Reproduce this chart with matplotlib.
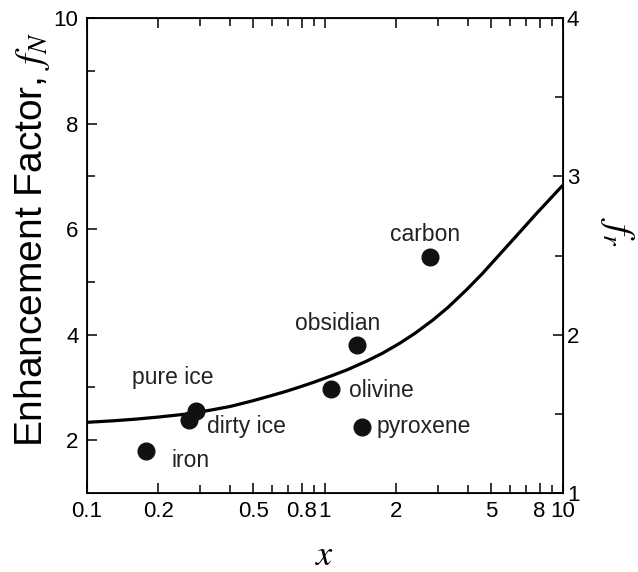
import matplotlib
matplotlib.use('Agg')
import matplotlib.pyplot as plt
from matplotlib.ticker import FixedLocator, FixedFormatter, NullFormatter

plt.rcParams['font.family'] = ['Liberation Sans', 'DejaVu Sans']
plt.rcParams['mathtext.fontset'] = 'stix'

# model curve f_N(x)
curve_x = [0.1, 0.13, 0.16, 0.2, 0.26, 0.33, 0.4, 0.5, 0.6, 0.68, 0.785, 0.9,
           1.08, 1.25, 1.5, 1.75, 2.07, 2.4, 2.85, 3.3, 3.94, 4.6, 5.43, 6.5, 7.7, 10]
curve_y = [2.34, 2.37, 2.40, 2.44, 2.495, 2.57, 2.64, 2.75, 2.85, 2.92, 3.01, 3.10,
           3.23, 3.34, 3.50, 3.65, 3.84, 4.03, 4.28, 4.52, 4.85, 5.16, 5.52, 5.91, 6.28, 6.83]

# materials
names = ['iron', 'dirty ice', 'pure ice', 'olivine', 'obsidian', 'pyroxene', 'carbon']
mat_x = [0.178, 0.269, 0.289, 1.067, 1.37, 1.435, 2.78]
mat_y = [1.79, 2.38, 2.56, 2.98, 3.80, 2.25, 5.47]
# label positions (left edge, centre)
lab_x = [0.2275, 0.319, 0.1546, 1.26, 0.748, 1.65, 1.875]
lab_y = [1.62, 2.27, 3.18, 2.95, 4.22, 2.27, 5.89]

xticks_major = [0.1, 0.2, 0.5, 0.8, 1, 2, 5, 8, 10]
xtick_labels = ['0.1', '0.2', '0.5', '0.8', '1', '2', '5', '8', '10']
xticks_minor = [0.3, 0.4, 0.6, 0.7, 0.9, 3, 4, 6, 7, 9]

fig = plt.figure(figsize=(6.38, 5.72), dpi=100)
ax = fig.add_axes([0.136, 0.138, 0.746, 0.8305])

ax.plot(curve_x, curve_y, color='black', lw=2.3, solid_capstyle='butt', solid_joinstyle='round')
ax.plot(mat_x, mat_y, 'o', color='#111111', ms=12, zorder=3)
for n, tx, ty in zip(names, lab_x, lab_y):
    ax.text(tx, ty, n, fontsize=16.5, ha='left', va='center', color='#222222')

ax.set_xscale('log')
ax.set_xlim(0.1, 10)
ax.set_ylim(1, 10)
ax.xaxis.set_major_locator(FixedLocator(xticks_major))
ax.xaxis.set_major_formatter(FixedFormatter(xtick_labels))
ax.xaxis.set_minor_locator(FixedLocator(xticks_minor))
ax.xaxis.set_minor_formatter(NullFormatter())
ax.set_yticks([2, 4, 6, 8, 10])
ax.set_yticks([3, 5, 7, 9], minor=True)

ax.tick_params(which='both', direction='in', top=True, right=False, labelsize=16, width=1.1)
ax.tick_params(which='major', length=7, pad=6)
ax.tick_params(which='minor', length=6)
for s in ax.spines.values():
    s.set_linewidth(1.3)

ax.set_xlabel('$x$', fontsize=26, labelpad=11)
ax.set_ylabel('Enhancement Factor, $f_N$', fontsize=28)
ax.yaxis.set_label_coords(-0.073, 0.533)

ax2 = ax.twinx()
ax2.set_ylim(1, 4)
ax2.set_yticks([1, 2, 3, 4])
ax2.set_yticks([1.5, 2.5, 3.5], minor=True)
ax2.tick_params(which='both', direction='in', labelsize=16, width=1.1, pad=3)
ax2.tick_params(which='major', length=7)
ax2.tick_params(which='minor', length=6)
ax2.set_ylabel('$f_r$', fontsize=28, rotation=270)
ax2.yaxis.set_label_coords(1.155, 0.55)

fig.savefig('out.png', dpi=100)
